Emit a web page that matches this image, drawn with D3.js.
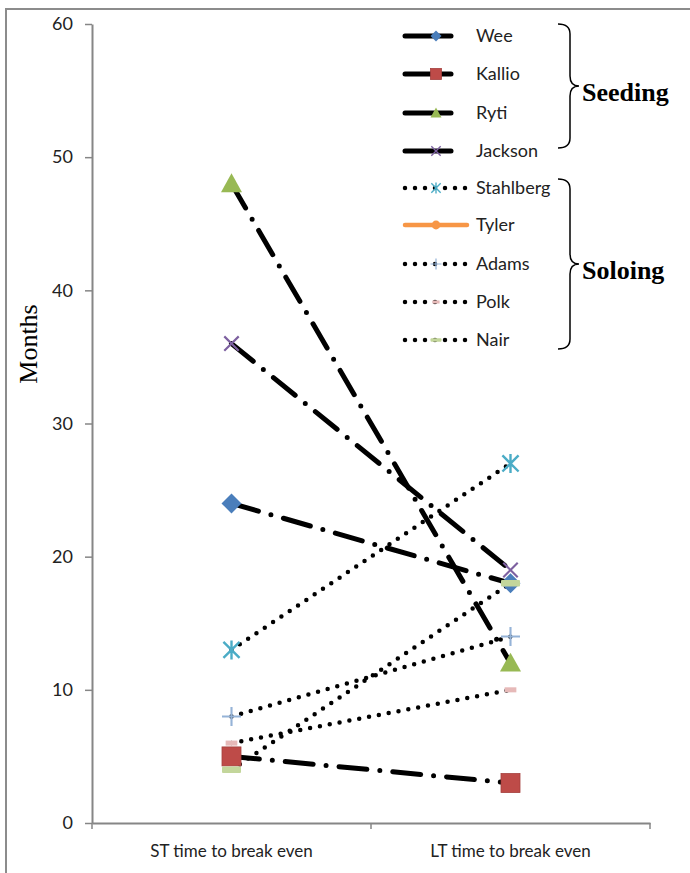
<!DOCTYPE html>
<html lang="en">
<head>
<meta charset="UTF-8">
<title>Break even</title>
<style>
  body { margin: 0; background: #fff; }
</style>
</head>
<body>
<div id="graph"></div>
<script src="https://d3js.org/d3.v7.min.js"></script>
<script>
// data
const categories = ["ST time to break even", "LT time to break even"];
const names = ["Wee", "Kallio", "Ryti", "Jackson", "Stahlberg", "Tyler", "Adams", "Polk", "Nair"];
const groups = ["Seeding", "Seeding", "Seeding", "Seeding", "Soloing", "Soloing", "Soloing", "Soloing", "Soloing"];
const stValues = [24, 5, 48, 36, 13, null, 8, 6, 4];
const ltValues = [18, 3, 12, 19, 27, null, 14, 10, 18];
const yTicks = [0, 10, 20, 30, 40, 50, 60];

const markerShapes = ["diamond", "square", "triangle", "x", "asterisk", "circle", "plus", "dash", "bar"];
const colors = ["#4a7ebb", "#be4b48", "#98b954", "#7d60a0", "#4bacc6", "#f79646", "#95b3d7", "#e6b9b8", "#c3d69b"];

const W = 690, H = 873;
const FONT = "Lato, 'Open Sans', sans-serif";
const svg = d3.select("#graph").append("svg")
  .attr("width", W).attr("height", H)
  .style("font-family", FONT);

// scales
const x = d3.scaleBand().domain(categories).range([92, 650]);
const y = d3.scaleLinear().domain([0, 60]).range([823, 24]);
const cx = c => x(c) + x.bandwidth() / 2;

// frame (only top and left edges fall inside the picture)
svg.append("path").attr("d", "M6,873 V9 H690")
  .attr("fill", "none").attr("stroke", "#8c8c8c").attr("stroke-width", 2);

// y axis
const yAxis = svg.append("g").attr("transform", `translate(${x.range()[0]},0)`)
  .call(d3.axisLeft(y).tickValues(yTicks).tickSize(7).tickSizeOuter(0).tickPadding(12));
yAxis.select(".domain").attr("stroke", "#868686").attr("stroke-width", 2);
yAxis.selectAll(".tick line").attr("stroke", "#868686").attr("stroke-width", 1.5);
yAxis.selectAll(".tick text").attr("font-size", 18).attr("fill", "#222")
  .attr("font-family", FONT);

// x axis
const xAxis = svg.append("g").attr("transform", `translate(0,${y(0)})`)
  .call(d3.axisBottom(x).tickSize(0).tickSizeOuter(0).tickPadding(22));
xAxis.select(".domain").attr("stroke", "#868686").attr("stroke-width", 2);
xAxis.selectAll(".tick text").attr("font-size", 17).attr("fill", "#222")
  .attr("font-family", FONT);
xAxis.selectAll(".edge").data([...categories.map(c => x(c)), x.range()[1]]).enter()
  .append("line").attr("class", "edge")
  .attr("x1", d => d).attr("x2", d => d).attr("y1", 0).attr("y2", 6)
  .attr("stroke", "#868686").attr("stroke-width", 1.5);

// y title
svg.append("text").attr("transform", "translate(37,344) rotate(-90)")
  .attr("text-anchor", "middle").attr("font-family", "'Liberation Serif', serif")
  .attr("font-size", 26).text("Months");

// line styles
const lineStyle = i => {
  if (names[i] === "Tyler") return { w: 4.5, dash: null, color: colors[i] };
  if (groups[i] === "Seeding") return { w: 5, dash: "28 13 0 13", color: "#000" };
  return { w: 4.5, dash: "0 10", color: "#000" };
};

const series = names.map((n, i) => ({
  name: n, i,
  pts: [stValues[i], ltValues[i]].map((v, k) => ({ c: categories[k], v }))
    .filter(p => p.v !== null)
}));

const line = d3.line().x(d => cx(d.c)).y(d => y(d.v));

svg.append("g").selectAll("path").data(series.filter(s => s.pts.length > 1)).enter()
  .append("path")
  .attr("d", s => line(s.pts))
  .attr("fill", "none")
  .attr("stroke", s => lineStyle(s.i).color)
  .attr("stroke-width", s => lineStyle(s.i).w)
  .attr("stroke-linecap", "round")
  .attr("stroke-dasharray", s => lineStyle(s.i).dash);

// markers
function drawMarker(g, shape, color, s) {
  const h = s / 2;
  if (shape === "diamond") {
    g.append("path").attr("d", `M0,${-h} L${h},0 L0,${h} L${-h},0 Z`).attr("fill", color);
  } else if (shape === "square") {
    g.append("rect").attr("x", -h).attr("y", -h).attr("width", s).attr("height", s)
      .attr("fill", color).attr("stroke", "#a5403d").attr("stroke-width", 0.8);
  } else if (shape === "triangle") {
    g.append("path").attr("d", `M0,${-h} L${h},${h * 0.8} L${-h},${h * 0.8} Z`).attr("fill", color);
  } else if (shape === "x") {
    const a = h * 0.85;
    g.append("path").attr("d", `M${-a},${-a} L${a},${a} M${a},${-a} L${-a},${a}`)
      .attr("stroke", color).attr("stroke-width", s / 8);
  } else if (shape === "asterisk") {
    const a = h * 0.85;
    g.append("path").attr("d", `M${-a},${-a} L${a},${a} M${a},${-a} L${-a},${a} M0,${-h} L0,${h}`)
      .attr("stroke", color).attr("stroke-width", s / 8);
  } else if (shape === "circle") {
    g.append("circle").attr("r", h * 0.8).attr("fill", color);
  } else if (shape === "plus") {
    g.append("path").attr("d", `M${-h},0 L${h},0 M0,${-h} L0,${h}`)
      .attr("stroke", color).attr("stroke-width", s / 9);
  } else if (shape === "dash") {
    g.append("rect").attr("x", -h * 0.65).attr("y", -s * 0.14).attr("width", s * 0.65).attr("height", s * 0.28)
      .attr("fill", color);
  } else if (shape === "bar") {
    g.append("rect").attr("x", -h).attr("y", -s * 0.17).attr("width", s).attr("height", s * 0.34)
      .attr("rx", 1).attr("fill", color);
  }
}

const markerSize = [20, 19, 21, 17, 19, 14, 19, 18, 19];
series.forEach(s => {
  s.pts.forEach(p => {
    const g = svg.append("g").attr("transform", `translate(${cx(p.c)},${y(p.v)})`);
    drawMarker(g, markerShapes[s.i], colors[s.i], markerSize[s.i]);
  });
});

// legend
const legY = [36, 74, 113, 151, 188, 225, 264, 302, 340];
const leg = svg.append("g");
names.forEach((n, i) => {
  const st = lineStyle(i);
  leg.append("line").attr("x1", 405).attr("x2", 467)
    .attr("y1", legY[i]).attr("y2", legY[i])
    .attr("stroke", st.color).attr("stroke-width", st.w)
    .attr("stroke-linecap", "round")
    .attr("stroke-dasharray", st.dash ? (groups[i] === "Seeding" ? "46 60" : "0 10") : null);
  const g = leg.append("g").attr("transform", `translate(436,${legY[i]})`);
  drawMarker(g, markerShapes[i], colors[i], 11);
  leg.append("text").attr("x", 476).attr("y", legY[i]).attr("dy", "0.35em")
    .attr("font-size", 18).attr("fill", "#222").text(n);
});

// group braces
const brace = (x0, x1, x2, y0, y1) => {
  const ym = (y0 + y1) / 2, r = 10;
  return `M${x0},${y0} Q${x1},${y0} ${x1},${y0 + r} L${x1},${ym - r} Q${x1},${ym} ${x2},${ym}` +
    ` Q${x1},${ym} ${x1},${ym + r} L${x1},${y1 - r} Q${x1},${y1} ${x0},${y1}`;
};
const braceDefs = [
  { label: "Seeding", y0: 24, y1: 148 },
  { label: "Soloing", y0: 179, y1: 349 }
];
braceDefs.forEach(b => {
  svg.append("path").attr("d", brace(558, 570, 579, b.y0, b.y1))
    .attr("fill", "none").attr("stroke", "#000").attr("stroke-width", 1.5);
  svg.append("text").attr("x", 582).attr("y", (b.y0 + b.y1) / 2 + 15)
    .attr("font-family", "'Liberation Serif', serif").attr("font-weight", "bold")
    .attr("font-size", 26).text(b.label);
});
</script>
</body>
</html>
